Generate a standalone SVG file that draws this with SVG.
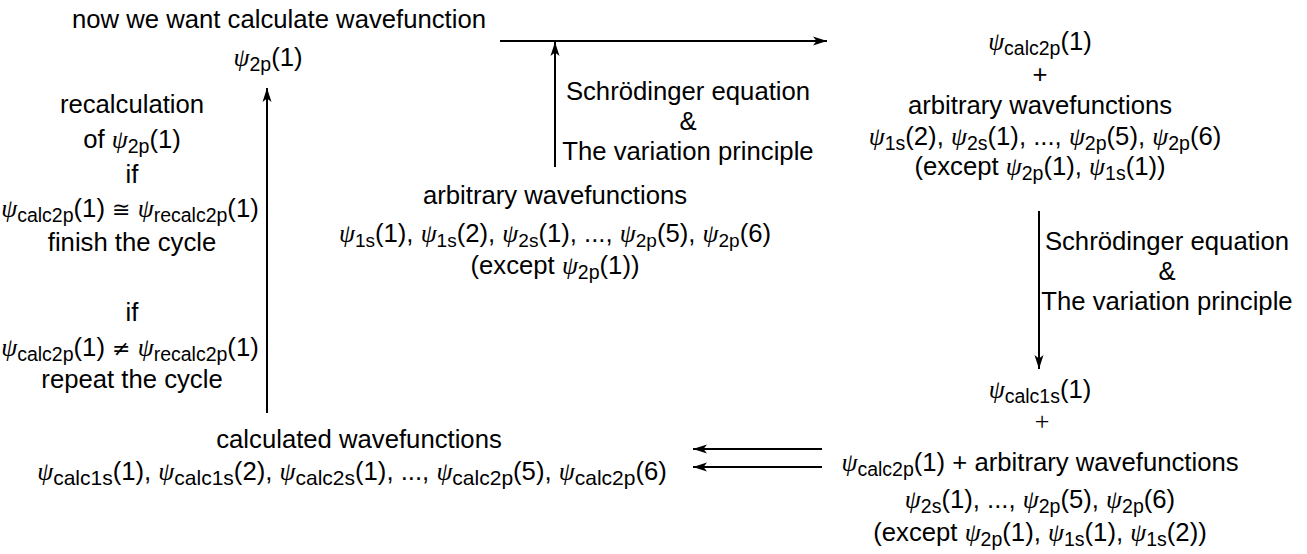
<svg xmlns="http://www.w3.org/2000/svg" width="1307" height="554" viewBox="0 0 1307 554">
<style>
text{font-family:"Liberation Sans",Arial,"DejaVu Sans",sans-serif;font-size:25.7px;fill:#000;text-anchor:middle}
.p{font-family:"Liberation Serif","DejaVu Serif",serif;font-style:italic}
.s{font-size:19.5px}
.m{font-family:"DejaVu Sans",sans-serif;font-size:22px}
.big{font-size:26.3px}
.big .s{font-size:21px}
.sm{font-size:25px}
.sm .s{font-size:19px}
.c{stroke:#000;stroke-width:2;fill:none;marker-end:url(#ah)}
</style>
<defs>
<marker id="ah" markerUnits="userSpaceOnUse" markerWidth="14" markerHeight="10" refX="14" refY="5" orient="auto">
<path d="M0,0.5 L14,5 L0,9.5 L3.5,5 z" fill="#000"/>
</marker>
</defs>
<g id="connectors">
<path class="c" d="M500,41 H827"/>
<path class="c" d="M555,167 V42"/>
<path class="c" d="M267,413 V88"/>
<path class="c" d="M1039,211 V369"/>
<path class="c" d="M822,449 H693"/>
<path class="c" d="M822,467 H693"/>
</g>
<g id="label-top">
<text x="688" y="100">Schrödinger equation</text>
<text x="688" y="130">&amp;</text>
<text x="688" y="160">The variation principle</text>
</g>
<g id="label-right">
<text x="1167" y="250">Schrödinger equation</text>
<text x="1167" y="280">&amp;</text>
<text x="1167" y="310">The variation principle</text>
</g>
<g id="node-target">
<text x="279" y="28">now we want calculate wavefunction</text>
<text x="268" y="66"><tspan class="p">ψ</tspan><tspan class="s" dy="5">2p</tspan><tspan dy="-5">(1)</tspan></text>
</g>
<g id="node-recalc">
<text x="132" y="113">recalculation</text>
<text x="132" y="148">of <tspan class="p">ψ</tspan><tspan class="s" dy="5">2p</tspan><tspan dy="-5">(1)</tspan></text>
<text x="132" y="183">if</text>
<text x="130" y="217"><tspan class="p">ψ</tspan><tspan class="s" dy="5">calc2p</tspan><tspan dy="-5">(1) </tspan><tspan class="m">≅</tspan> <tspan class="p">ψ</tspan><tspan class="s" dy="5">recalc2p</tspan><tspan dy="-5">(1)</tspan></text>
<text x="132" y="251">finish the cycle</text>
<text x="132" y="321">if</text>
<text x="130" y="356"><tspan class="p">ψ</tspan><tspan class="s" dy="5">calc2p</tspan><tspan dy="-5">(1) </tspan><tspan class="m">≠</tspan> <tspan class="p">ψ</tspan><tspan class="s" dy="5">recalc2p</tspan><tspan dy="-5">(1)</tspan></text>
<text x="132" y="388">repeat the cycle</text>
</g>
<g id="node-arbitrary">
<text x="555" y="204">arbitrary wavefunctions</text>
<g class="sm"><text x="555" y="242"><tspan class="p">ψ</tspan><tspan class="s" dy="5">1s</tspan><tspan dy="-5">(1), </tspan><tspan class="p">ψ</tspan><tspan class="s" dy="5">1s</tspan><tspan dy="-5">(2), </tspan><tspan class="p">ψ</tspan><tspan class="s" dy="5">2s</tspan><tspan dy="-5">(1), ..., </tspan><tspan class="p">ψ</tspan><tspan class="s" dy="5">2p</tspan><tspan dy="-5">(5), </tspan><tspan class="p">ψ</tspan><tspan class="s" dy="5">2p</tspan><tspan dy="-5">(6)</tspan></text></g>
<text x="555" y="274">(except <tspan class="p">ψ</tspan><tspan class="s" dy="5">2p</tspan><tspan dy="-5">(1))</tspan></text>
</g>
<g id="node-calc2p">
<text x="1040" y="50"><tspan class="p">ψ</tspan><tspan class="s" dy="5">calc2p</tspan><tspan dy="-5">(1)</tspan></text>
<text x="1040" y="83">+</text>
<text x="1040" y="114">arbitrary wavefunctions</text>
<text x="1045" y="145"><tspan class="p">ψ</tspan><tspan class="s" dy="5">1s</tspan><tspan dy="-5">(2), </tspan><tspan class="p">ψ</tspan><tspan class="s" dy="5">2s</tspan><tspan dy="-5">(1), ..., </tspan><tspan class="p">ψ</tspan><tspan class="s" dy="5">2p</tspan><tspan dy="-5">(5), </tspan><tspan class="p">ψ</tspan><tspan class="s" dy="5">2p</tspan><tspan dy="-5">(6)</tspan></text>
<text x="1040" y="175">(except <tspan class="p">ψ</tspan><tspan class="s" dy="5">2p</tspan><tspan dy="-5">(1), </tspan><tspan class="p">ψ</tspan><tspan class="s" dy="5">1s</tspan><tspan dy="-5">(1))</tspan></text>
</g>
<g id="node-calc1s">
<text x="1040" y="398"><tspan class="p">ψ</tspan><tspan class="s" dy="4.5">calc1s</tspan><tspan dy="-4.5">(1)</tspan></text>
<text x="1042" y="430" style="font-family:'Liberation Serif',serif;font-size:26px">+</text>
<text x="1040" y="471"><tspan class="p">ψ</tspan><tspan class="s" dy="5">calc2p</tspan><tspan dy="-5">(1) + arbitrary wavefunctions</tspan></text>
<text x="1040" y="508"><tspan class="p">ψ</tspan><tspan class="s" dy="5">2s</tspan><tspan dy="-5">(1), ..., </tspan><tspan class="p">ψ</tspan><tspan class="s" dy="5">2p</tspan><tspan dy="-5">(5), </tspan><tspan class="p">ψ</tspan><tspan class="s" dy="5">2p</tspan><tspan dy="-5">(6)</tspan></text>
<text x="1040" y="541">(except <tspan class="p">ψ</tspan><tspan class="s" dy="5">2p</tspan><tspan dy="-5">(1), </tspan><tspan class="p">ψ</tspan><tspan class="s" dy="5">1s</tspan><tspan dy="-5">(1), </tspan><tspan class="p">ψ</tspan><tspan class="s" dy="5">1s</tspan><tspan dy="-5">(2))</tspan></text>
</g>
<g id="node-calculated" class="big">
<text x="359" y="448">calculated wavefunctions</text>
<text x="352" y="480"><tspan class="p">ψ</tspan><tspan class="s" dy="5">calc1s</tspan><tspan dy="-5">(1), </tspan><tspan class="p">ψ</tspan><tspan class="s" dy="5">calc1s</tspan><tspan dy="-5">(2), </tspan><tspan class="p">ψ</tspan><tspan class="s" dy="5">calc2s</tspan><tspan dy="-5">(1), ..., </tspan><tspan class="p">ψ</tspan><tspan class="s" dy="5">calc2p</tspan><tspan dy="-5">(5), </tspan><tspan class="p">ψ</tspan><tspan class="s" dy="5">calc2p</tspan><tspan dy="-5">(6)</tspan></text>
</g>
</svg>
